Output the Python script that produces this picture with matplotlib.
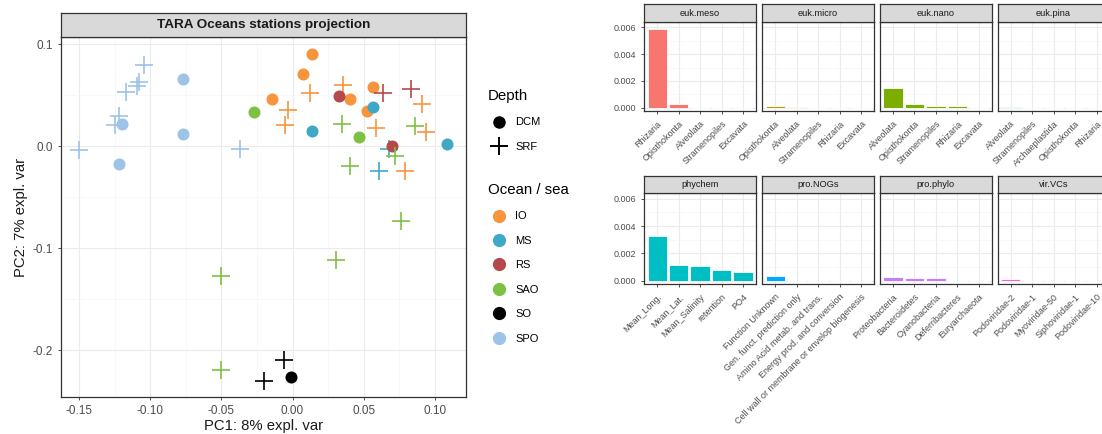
import numpy as np
import matplotlib
matplotlib.use("Agg")
import matplotlib.pyplot as plt
from matplotlib.lines import Line2D

plt.rcParams['font.family'] = ['Liberation Sans', 'DejaVu Sans']

# ---- data: station projection ----
pc1 = [-0.150, -0.104, -0.108, -0.109, -0.117, -0.122, -0.125, -0.037,
       -0.077, -0.077, -0.120, -0.122,
       0.0138, 0.0070, -0.0147, 0.040, 0.0562, 0.052,
       0.0356, 0.0122, -0.003, -0.0054, 0.0585, 0.0906, 0.094, 0.079,
       0.014, 0.0567, 0.1086,
       0.061, 0.068,
       0.0328, 0.0698,
       0.0632, 0.083,
       -0.027, 0.047,
       0.035, 0.086, 0.072, 0.040, 0.076, 0.0305, -0.050, -0.050,
       -0.006, -0.020,
       -0.0013]
pc2 = [-0.004, 0.080, 0.063, 0.059, 0.053, 0.030, 0.021, -0.003,
       0.066, 0.012, 0.022, -0.017,
       0.0905, 0.0708, 0.046, 0.046, 0.058, 0.0345,
       0.060, 0.052, 0.0355, 0.021, 0.018, 0.041, 0.0143, -0.024,
       0.015, 0.039, 0.002,
       -0.024, -0.003,
       0.049, 0.0005,
       0.052, 0.056,
       0.034, 0.0087,
       0.0218, 0.020, -0.010, -0.019, -0.073, -0.112, -0.127, -0.220,
       -0.210, -0.230,
       -0.226]
ocean = (['SPO'] * 12 + ['IO'] * 14 + ['MS'] * 5 + ['RS'] * 4 +
         ['SAO'] * 10 + ['SO'] * 3)
depth = (['SRF'] * 8 + ['DCM'] * 4 +
         ['DCM'] * 6 + ['SRF'] * 8 +
         ['DCM'] * 3 + ['SRF'] * 2 +
         ['DCM'] * 2 + ['SRF'] * 2 +
         ['DCM'] * 2 + ['SRF'] * 8 +
         ['SRF'] * 2 + ['DCM'] * 1)

ocean_names = ['IO', 'MS', 'RS', 'SAO', 'SO', 'SPO']
ocean_colors = ['#F7943D', '#3FA8C6', '#B5484B', '#7CC142', '#000000', '#9DC3E6']

# ---- data: loadings facets ----
blocks = ['euk.meso', 'euk.micro', 'euk.nano', 'euk.pina',
          'phychem', 'pro.NOGs', 'pro.phylo', 'vir.VCs']
block_colors = ['#F8766D', '#CD9600', '#7CAE00', '#00BE67',
                '#00BFC4', '#00A9FF', '#C77CFF', '#FF61CC']
block_labels = [
    ['Rhizaria', 'Opisthokonta', 'Alveolata', 'Stramenopiles', 'Excavata'],
    ['Opisthokonta', 'Alveolata', 'Stramenopiles', 'Rhizaria', 'Excavata'],
    ['Alveolata', 'Opisthokonta', 'Stramenopiles', 'Rhizaria', 'Excavata'],
    ['Alveolata', 'Stramenopiles', 'Archaeplastida', 'Opisthokonta', 'Rhizaria'],
    ['Mean_Long.', 'Mean_Lat.', 'Mean_Salinity', 'retention', 'PO4'],
    ['Function Unknown', 'Gen. funct. prediction only', 'Amino Acid metab. and trans.',
     'Energy prod. and conversion', 'Cell wall or membrane or envelop biogenesis'],
    ['Proteobacteria', 'Bacteroidetes', 'Cyanobacteria', 'Deferribacteres', 'Euryarchaeota'],
    ['Podoviridae-2', 'Podoviridae-1', 'Myoviridae-50', 'Siphoviridae-1', 'Podoviridae-10'],
]
block_values = [
    [0.00588, 0.00026, 0, 0, 0],
    [0.00012, 0.00006, 0, 0, 0],
    [0.00146, 0.00025, 0.00015, 0.00015, 0],
    [0.00005, 0, 0, 0, 0],
    [0.0033, 0.00116, 0.00109, 0.00076, 0.00066],
    [0.00033, 0, 0, 0, 0],
    [0.00024, 0.00019, 0.00017, 0, 0],
    [0.0001, 0, 0, 0, 0],
]

W, H = 1102, 434
fig = plt.figure(figsize=(W / 100, H / 100), dpi=100)

def px_axes(x0, y0, x1, y1):
    return fig.add_axes([x0 / W, 1 - y1 / H, (x1 - x0) / W, (y1 - y0) / H])

DARK = '#333333'
GRID = '#EBEBEB'

def style_panel(ax, fs):
    for s in ax.spines.values():
        s.set_color(DARK)
        s.set_linewidth(0.9)
    ax.tick_params(colors=DARK, labelcolor='#4D4D4D', labelsize=fs, length=2.5, width=0.6)
    ax.grid(True, which='major', color=GRID, linewidth=0.8)
    ax.grid(True, which='minor', color='#F5F5F5', linewidth=0.5)
    ax.set_axisbelow(True)

def strip(x0, y0, x1, y1, label, fs, bold=False):
    s = px_axes(x0, y0, x1, y1)
    s.set_facecolor('#D9D9D9')
    s.set_xticks([])
    s.set_yticks([])
    for sp in s.spines.values():
        sp.set_color(DARK)
        sp.set_linewidth(0.9)
    s.text(0.5, 0.5, label, ha='center', va='center', fontsize=fs,
           color='#1A1A1A', fontweight='bold' if bold else 'normal', transform=s.transAxes)

# ---- left panel ----
ax = px_axes(61, 37, 466, 397)
style_panel(ax, 8.5)
ax.set_xlim(-0.1626, 0.1218)
ax.set_ylim(-0.246, 0.1072)
ax.set_xticks([-0.15, -0.10, -0.05, 0.0, 0.05, 0.10])
ax.set_xticklabels(['-0.15', '-0.10', '-0.05', '0.00', '0.05', '0.10'])
ax.set_xticks([-0.125, -0.075, -0.025, 0.025, 0.075], minor=True)
ax.set_yticks([0.1, 0.0, -0.1, -0.2])
ax.set_yticklabels(['0.1', '0.0', '-0.1', '-0.2'])
ax.set_yticks([0.05, -0.05, -0.15], minor=True)
ax.tick_params(which='minor', length=0)
ax.set_xlabel('PC1: 8% expl. var', fontsize=10.7, color='#1A1A1A', labelpad=1)
ax.set_ylabel('PC2: 7% expl. var', fontsize=10.7, color='#1A1A1A', labelpad=3)

cmap = dict(zip(ocean_names, ocean_colors))
for x, y, o, d in zip(pc1, pc2, ocean, depth):
    if d == 'DCM':
        ax.scatter(x, y, s=75, color=cmap[o], marker='o', linewidths=0, zorder=3)
    else:
        ax.scatter(x, y, s=170, color=cmap[o], marker='+', linewidths=1.2, zorder=3)

strip(61, 13, 466, 37, 'TARA Oceans stations projection', 9.7, bold=True)

# legends
h_depth = [Line2D([], [], marker='o', color='black', ls='', markersize=8),
           Line2D([], [], marker='+', color='black', ls='', markersize=13, markeredgewidth=1.4)]
leg1 = fig.legend(h_depth, ['DCM', 'SRF'], title='Depth', loc='upper left',
                  bbox_to_anchor=(488 / W, 1 - 89 / H), frameon=False, fontsize=8,
                  title_fontsize=10.8, handlelength=2.0, handletextpad=0.45, labelspacing=1.3,
                  borderpad=0, borderaxespad=0)
leg1._legend_box.align = 'left'
h_ocean = [Line2D([], [], marker='o', color=c, ls='', markersize=8.5) for c in ocean_colors]
leg2 = fig.legend(h_ocean, ocean_names, title='Ocean / sea', loc='upper left',
                  bbox_to_anchor=(488 / W, 1 - 183 / H), frameon=False, fontsize=8,
                  title_fontsize=10.8, handlelength=2.0, handletextpad=0.45, labelspacing=1.3,
                  borderpad=0, borderaxespad=0)
leg2._legend_box.align = 'left'

# ---- right facets ----
col_x = [644.3, 762.3, 880.0, 997.7]
pw = 111.7
rows = [(4, 22, 111), (175.7, 193.3, 284)]
for i, (name, labs, vals, col) in enumerate(zip(blocks, block_labels, block_values, block_colors)):
    r, c = divmod(i, 4)
    st, top, bot = rows[r]
    x0 = col_x[c]
    a = px_axes(x0, top, x0 + pw, bot)
    style_panel(a, 6.5)
    pos = np.arange(1, 6)
    a.bar(pos, vals, width=0.9, color=col, edgecolor='white', linewidth=0.6, zorder=3)
    a.set_xlim(0.4, 5.6)
    a.set_ylim(-0.00024, 0.0064)
    a.set_yticks([0, 0.002, 0.004, 0.006])
    a.set_yticks([0.001, 0.003, 0.005], minor=True)
    a.tick_params(which='minor', length=0)
    if c == 0:
        a.set_yticklabels(['0.000', '0.002', '0.004', '0.006'])
    else:
        a.tick_params(axis='y', length=0, labelleft=False)
    a.set_xticks(pos)
    a.set_xticklabels(labs, rotation=45, ha='right', va='top', rotation_mode='anchor',
                      fontsize=6.5)
    strip(x0, st, x0 + pw, top, name, 6.7)

fig.savefig('out.png', dpi=100)
